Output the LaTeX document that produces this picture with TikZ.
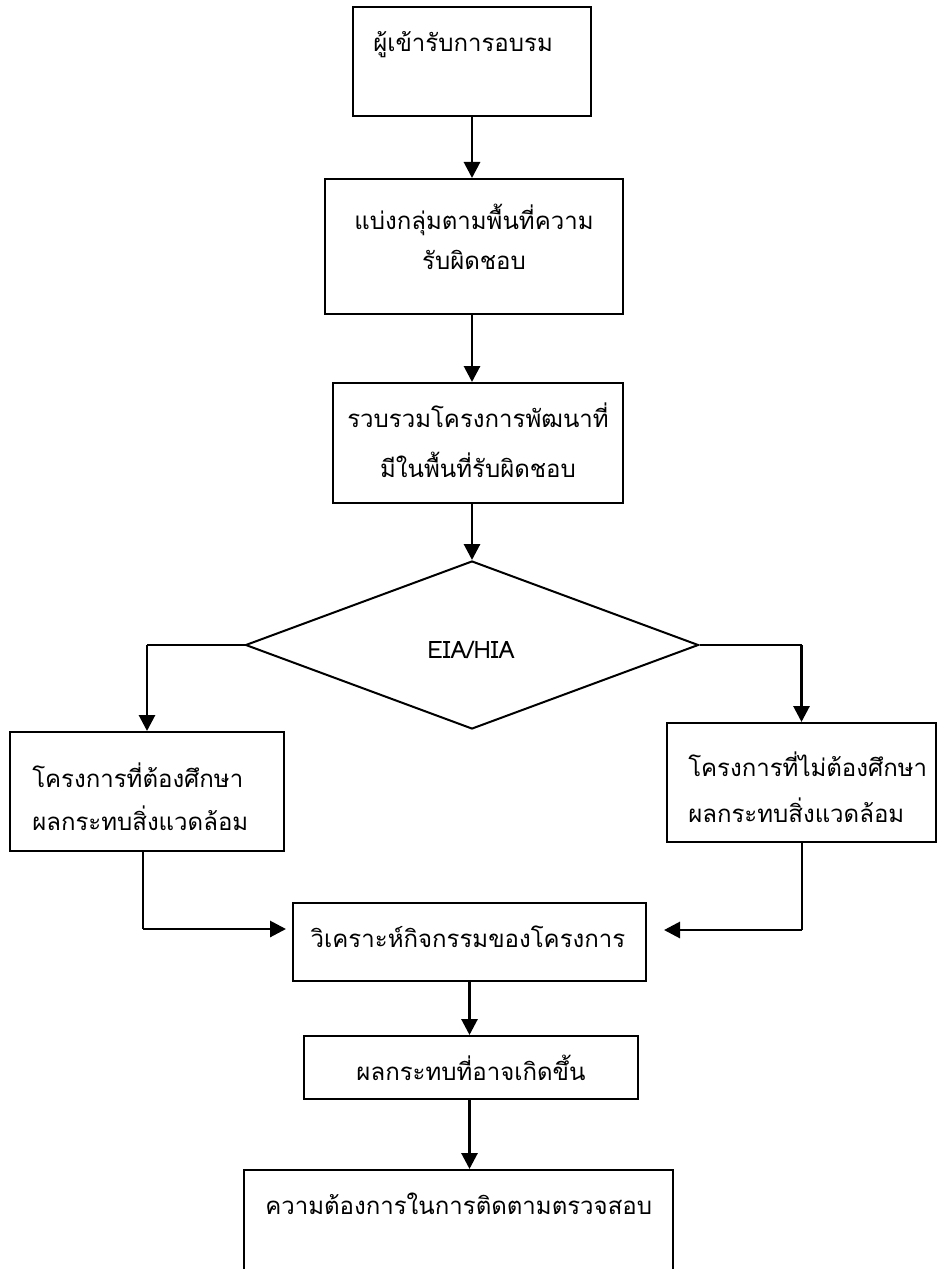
\documentclass[tikz,border=0pt]{standalone}
\usepackage{fontspec}
\setmainfont[Script=Thai]{Loma}
\usetikzlibrary{arrows.meta,shapes.geometric}
\begin{document}
\begin{tikzpicture}[x=0.75pt,y=-0.75pt,
  box/.style={draw,line width=1.5pt,rectangle,inner sep=0pt},
  flow/.style={line width=2.2pt,-{Triangle[length=12pt,width=12pt]}},
  link/.style={line width=1.3pt},
  lbl/.style={inner sep=0pt,font=\fontsize{18pt}{32pt}\selectfont},
]
\useasboundingbox[fill=white] (0,0) rectangle (937,1269);
% boxes
\node[box,minimum width=178.5pt,minimum height=81.75pt] (b1) at (472,61.5) {};
\node[lbl,anchor=base west] (t1) at (373,52) {ผู้เข้ารับการอบรม};
\node[box,minimum width=223.5pt,minimum height=101.25pt] (b2) at (474,246.5) {};
\node[lbl,anchor=base,align=center,font=\fontsize{18pt}{30pt}\selectfont] (t2) at (474,270) {แบ่งกลุ่มตามพื้นที่ความ\\รับผิดชอบ};
\node[box,minimum width=217.5pt,minimum height=90pt] (b3) at (478,443) {};
\node[lbl,anchor=base,align=center,font=\fontsize{18pt}{37pt}\selectfont] (t3) at (478,477) {รวบรวมโครงการพัฒนาที่\\มีในพื้นที่รับผิดชอบ};
\node[draw,diamond,line width=1.5pt,minimum width=339.75pt,minimum height=126pt,inner sep=0pt] (d) at (472,645) {};
\node[lbl,anchor=base] (td) at (471,658) {EIA/HIA};
\node[box,minimum width=205.5pt,minimum height=89.25pt] (lb) at (147,791.5) {};
\node[lbl,anchor=base west,align=left] (tl) at (32,830) {โครงการที่ต้องศึกษา\\ผลกระทบสิ่งแวดล้อม};
\node[box,minimum width=201.75pt,minimum height=89.25pt] (rb) at (801.5,782.5) {};
\node[lbl,anchor=base west,align=left,font=\fontsize{18pt}{34pt}\selectfont] (tr) at (688,822) {โครงการที่ไม่ต้องศึกษา\\ผลกระทบสิ่งแวดล้อม};
\node[box,minimum width=264.75pt,minimum height=58.5pt] (mb) at (469.5,942) {};
\node[lbl,anchor=base] (tm) at (468,947) {วิเคราะห์กิจกรรมของโครงการ};
\node[box,minimum width=250.5pt,minimum height=47.25pt] (b5) at (471,1067.5) {};
\node[lbl,anchor=base] (t5) at (471,1080) {ผลกระทบที่อาจเกิดขึ้น};
\node[box,minimum width=321.75pt,minimum height=82.5pt] (b6) at (458.5,1225) {};
\node[lbl,anchor=base west] (t6) at (265,1214) {ความต้องการในการติดตามตรวจสอบ};
% connectors
\draw[flow] (b1.south) -- (b1.south |- b2.north);
\draw[flow] (b1.south |- b2.south) -- (b1.south |- b3.north);
\draw[flow] (d.north |- b3.south) -- (d.north);
\draw[link] (d.west) -- (lb.north |- d.west);
\draw[flow] (lb.north |- d.west) -- (lb.north);
\draw[link] (d.east) -- (rb.north |- d.east);
\draw[flow] (rb.north |- d.east) -- (rb.north);
\coordinate (lc) at (143,929);
\draw[link] (lc |- lb.south) -- (lc);
\draw[flow,shorten >=4.5pt] (lc) -- (mb.west |- lc);
\coordinate (rc) at (802,930);
\draw[link] (rc |- rb.south) -- (rc);
\draw[flow,shorten >=12.75pt] (rc) -- (mb.east |- rc);
\draw[flow] (mb.south) -- (mb.south |- b5.north);
\draw[flow] (mb.south |- b5.south) -- (mb.south |- b6.north);
\end{tikzpicture}
\end{document}
